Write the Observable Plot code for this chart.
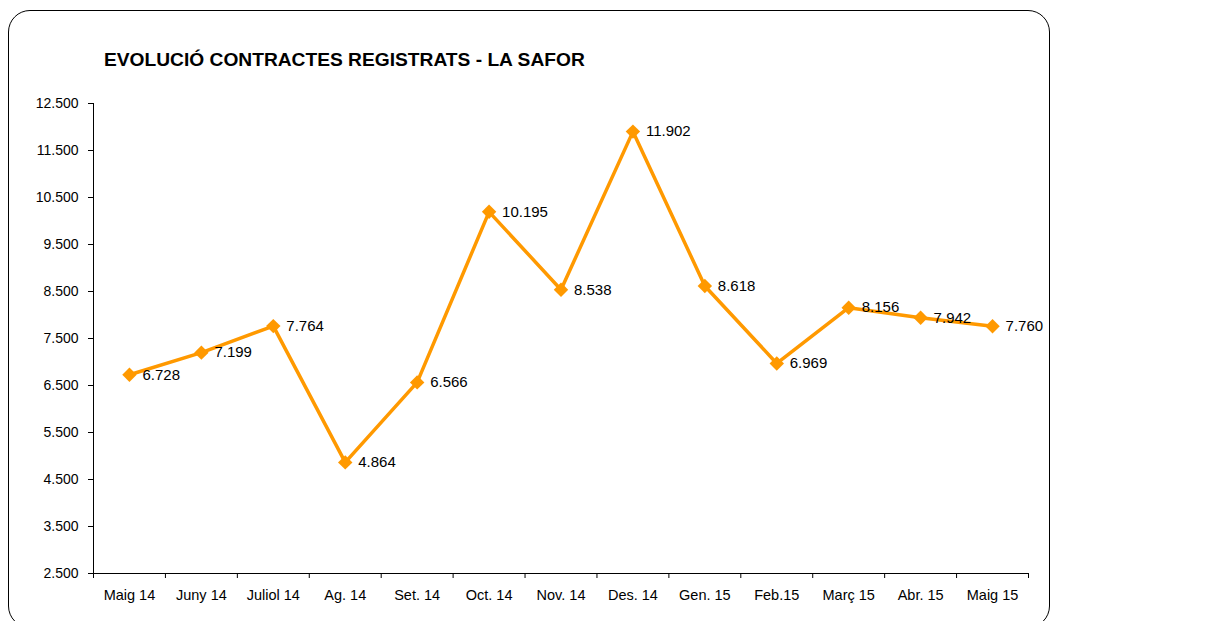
<!DOCTYPE html>
<html><head><meta charset="utf-8">
<script src="https://cdn.jsdelivr.net/npm/d3@7"></script>
<script src="https://cdn.jsdelivr.net/npm/@observablehq/plot@0.6"></script>
<style>
body{margin:0;background:#fff;font-family:"Liberation Sans",Arial,sans-serif;}
#wrap{position:relative;width:1230px;height:621px;overflow:hidden;}
#frame{position:absolute;left:8px;top:10px;width:1042px;height:618px;border:1.5px solid #000;border-radius:22px;box-sizing:border-box;}
#title{position:absolute;left:104px;top:49px;font-weight:bold;font-size:19.2px;line-height:22px;color:#000;white-space:nowrap;}
#chart{position:absolute;left:0;top:0;}
</style></head><body>
<div id="wrap"><div id="frame"></div><div id="chart"></div><div id="title">EVOLUCIÓ CONTRACTES REGISTRATS - LA SAFOR</div></div>
<script>
const months = ["Maig 14","Juny 14","Juliol 14","Ag. 14","Set. 14","Oct. 14","Nov. 14","Des. 14","Gen. 15","Feb.15","Març 15","Abr. 15","Maig 15"];
const values = [6728, 7199, 7764, 4864, 6566, 10195, 8538, 11902, 8618, 6969, 8156, 7942, 7760];
const yTicks = [2500, 3500, 4500, 5500, 6500, 7500, 8500, 9500, 10500, 11500, 12500];
const yDomain = [2500, 12500];

const loc = d3.formatLocale({decimal: ",", thousands: ".", grouping: [3], currency: ["", " €"]});
const fmt = loc.format(",d");

const data = months.map((m, i) => ({month: m, value: values[i], pos: i + 0.5}));
const boundaries = d3.range(months.length + 1);
const centers = months.map((m, i) => i + 0.5);
const color = "#FF9900";

const chart = Plot.plot({
  width: 1230,
  height: 621,
  marginLeft: 93,
  marginRight: 202,
  marginTop: 103,
  marginBottom: 48,
  style: {fontFamily: "'Liberation Sans', Arial, sans-serif", color: "#000", background: "transparent"},
  x: {type: "linear", domain: [0, months.length], label: null},
  y: {domain: yDomain, label: null},
  marks: [
    Plot.axisY(yTicks, {tickSize: 5, tickPadding: 10, tickFormat: fmt, fontSize: 14, stroke: "#000", fill: "#000"}),
    Plot.axisX(boundaries, {tickSize: 5, tickFormat: () => "", stroke: "#000"}),
    Plot.axisX(centers, {tickSize: 0, tickPadding: 16, tickFormat: d => months[Math.floor(d)], fontSize: 14.5, fill: "#000"}),
    Plot.ruleX([0], {stroke: "#000", strokeWidth: 1}),
    Plot.ruleY([yDomain[0]], {stroke: "#000", strokeWidth: 1}),
    Plot.line(data, {x: "pos", y: "value", stroke: color, strokeWidth: 3.5}),
    Plot.dot(data, {x: "pos", y: "value", symbol: "diamond2", r: 6.5, fill: color, stroke: "none"}),
    Plot.text(data, {x: "pos", y: "value", text: d => fmt(d.value), dx: 13, textAnchor: "start", fontSize: 15, fill: "#000"})
  ]
});
document.getElementById("chart").appendChild(chart);
</script>
</body></html>
